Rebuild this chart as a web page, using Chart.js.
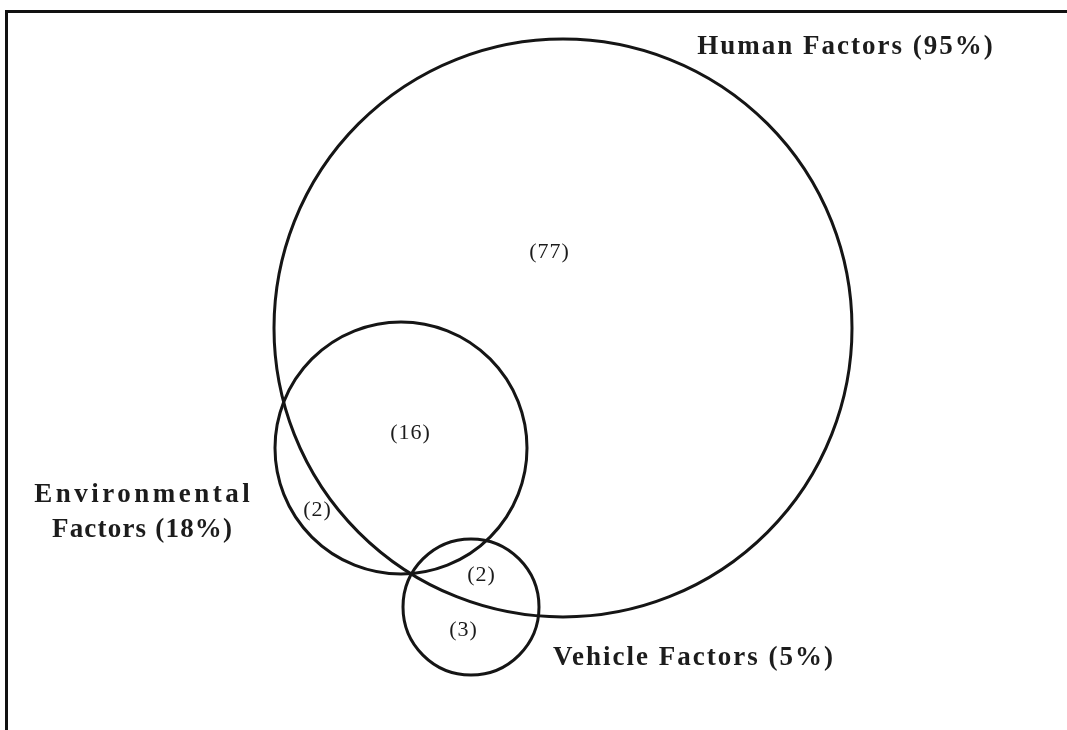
<!DOCTYPE html>
<html>
<head>
<meta charset="utf-8">
<script src="https://cdn.jsdelivr.net/npm/chart.js@4"></script>
<style>
  html, body { margin: 0; padding: 0; background: #fff; }
  #wrap { position: relative; width: 1067px; height: 730px; overflow: hidden; }
  #frame { position: absolute; left: 5px; top: 10px; right: -5px; bottom: -5px;
           border-top: 3px solid #111; border-left: 3px solid #111; }
  canvas#venn { position: absolute; left: 0; top: 0; }
</style>
</head>
<body>
<div id="wrap">
  <div id="frame"></div>
  <canvas id="venn" width="1067" height="730"></canvas>
</div>
<script>
// the three sets (circle centre + radius in diagram units)
const setNames = ['Human Factors (95%)', 'Environmental Factors (18%)', 'Vehicle Factors (5%)'];
const setX = [563, 401, 471];
const setY = [328, 448, 607];
const setR = [289, 126, 68];

// set labels, split into lines, with their anchor points
const labelLines = [['Human Factors (95%)'], ['Environmental', 'Factors (18%)'], ['Vehicle Factors (5%)']];
const labelX = [845, 142, 693];
const labelY = [47, 495, 658];

// counts for each region of the diagram
const regionText = ['(77)', '(16)', '(2)', '(2)', '(3)'];
const regionX = [549, 410, 317, 481, 463];
const regionY = [252, 433, 510, 575, 630];

const canvas = document.querySelector('canvas#venn');
const ctx = canvas.getContext('2d');

// radius in pixels, taken from the x scale so circles follow the data units
function pixelRadius(chart, i) {
  const xs = chart.scales.x;
  return xs.getPixelForValue(setX[i] + setR[i]) - xs.getPixelForValue(setX[i]);
}

// letter-spaced text centred on x (canvas adds spacing after the last glyph too)
function spacedText(c, text, x, y, spacing) {
  c.letterSpacing = spacing + 'px';
  c.fillText(text, x + spacing / 2, y);
}

const textPlugin = {
  id: 'vennText',
  afterDatasetsDraw(chart) {
    const c = chart.ctx;
    const xs = chart.scales.x;
    const ys = chart.scales.y;
    c.save();
    c.fillStyle = '#1c1c1c';
    c.textAlign = 'center';
    c.textBaseline = 'middle';

    c.font = 'bold 27px "Liberation Serif"';
    labelLines.forEach((lines, i) => {
      lines.forEach((line, j) => {
        // the scanned lettering is spaced unevenly, so the two-line label gets its own spacing
        let sp = 2;
        if (line === 'Environmental') sp = 3.5;
        if (line === 'Factors (18%)') sp = 1.2;
        spacedText(c, line, xs.getPixelForValue(labelX[i]), ys.getPixelForValue(labelY[i]) + j * 35, sp);
      });
    });

    c.font = '22px "Liberation Serif"';
    regionText.forEach((t, i) => {
      spacedText(c, t, xs.getPixelForValue(regionX[i]), ys.getPixelForValue(regionY[i]), 1);
    });
    c.restore();
  }
};

new Chart(ctx, {
  type: 'scatter',
  data: {
    labels: setNames,
    datasets: [{
      label: 'Factors',
      data: setX.map((x, i) => ({ x: x, y: setY[i] })),
      pointStyle: 'circle',
      pointRadius: (c) => pixelRadius(c.chart, c.dataIndex),
      pointHoverRadius: (c) => pixelRadius(c.chart, c.dataIndex),
      backgroundColor: 'rgba(0,0,0,0)',
      borderColor: '#151515',
      pointBorderWidth: 3,
      pointHoverBorderWidth: 3,
    }],
  },
  options: {
    responsive: false,
    animation: false,
    events: [],
    layout: { padding: 0 },
    plugins: { legend: { display: false }, tooltip: { enabled: false } },
    scales: {
      x: { type: 'linear', min: 0, max: 1067, display: false },
      y: { type: 'linear', min: 0, max: 730, reverse: true, display: false },
    },
  },
  plugins: [textPlugin],
});
</script>
</body>
</html>
